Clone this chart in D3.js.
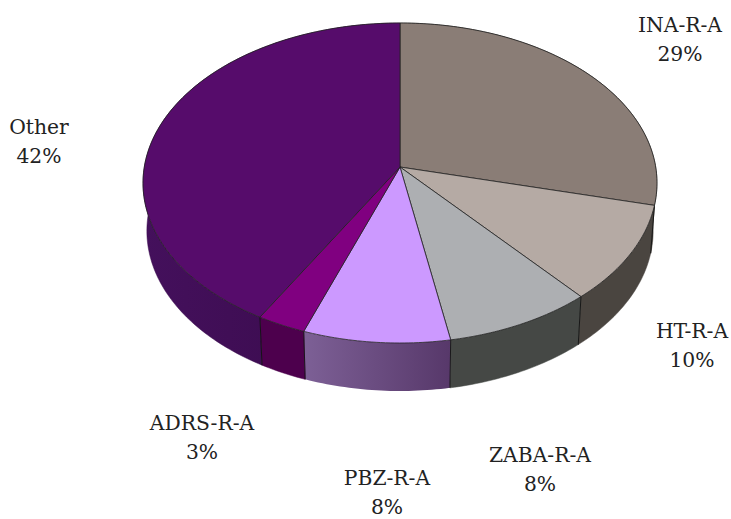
<!DOCTYPE html>
<html>
<head>
<meta charset="utf-8">
<script src="https://cdn.jsdelivr.net/npm/d3@7"></script>
<style>
  html, body { margin: 0; background: #fff; overflow: hidden; }
  text { font-family: "DejaVu Serif", serif; font-size: 20.3px; fill: #222; }
</style>
</head>
<body>
<div id="chart"></div>
<script>
// Data, share of each slice in percent
const categories = ["INA-R-A", "HT-R-A", "ZABA-R-A", "PBZ-R-A", "ADRS-R-A", "Other"];
const shares = [28.8, 9.85, 8.49, 8.4, 2.8, 41.66];
const topColors = ["#8a7d76", "#b5aaa4", "#adafb2", "#cc99ff", "#800080", "#560c6b"];
const sideColors = ["#45403b", "#4a4540", "#454845", "#6b4d85", "#4d004d", "#3a0a4c"];
const labelPos = [[680, 32], [692, 338], [540, 462], [387, 485], [202, 430], [39, 134]];

const width = 731, height = 519;

const svg = d3.select("#chart")
  .append("svg")
  .attr("width", width)
  .attr("height", height);

// Tilted disc: the apex sits above the middle of the ellipse, so use a perspective map
const cx = 400, cy = 167, rx = 255.7, ry = 158.4, tilt = 0.1;
const depth = 48, shrink = 0.985;

function topPoint(a) {
  const u = Math.sin(a), v = -Math.cos(a);
  const den = 1 - tilt * v;
  return [cx + rx * u / den, cy + ry * v / den];
}
function bottomPoint(a) {
  const p = topPoint(a);
  return [cx + shrink * (p[0] - cx), p[1] + depth];
}

const pie = d3.pie().sort(null).value(d => d);
const arcs = pie(shares);
const line = d3.line();

function arcAngles(d) {
  const n = Math.max(2, Math.ceil((d.endAngle - d.startAngle) * 60));
  return d3.range(n + 1).map(i => d.startAngle + (d.endAngle - d.startAngle) * i / n);
}

// The PBZ wall has a light to dark fade in the picture
const defs = svg.append("defs");
const grad = defs.append("linearGradient").attr("id", "pbzSide");
grad.append("stop").attr("offset", "0%").attr("stop-color", "#7d6096");
grad.append("stop").attr("offset", "100%").attr("stop-color", "#57386a");

const otherGrad = defs.append("linearGradient").attr("id", "otherSide");
otherGrad.append("stop").attr("offset", "0%").attr("stop-color", "#44105c");
otherGrad.append("stop").attr("offset", "100%").attr("stop-color", "#380a4a");

// Side walls first, the top faces then hide whatever is at the back
svg.append("g").selectAll("path")
  .data(arcs)
  .enter().append("path")
  .attr("d", d => {
    const as = arcAngles(d);
    return line(as.map(topPoint).concat(as.slice().reverse().map(bottomPoint))) + "Z";
  })
  .attr("fill", (d, i) => i === 3 ? "url(#pbzSide)" : i === 5 ? "url(#otherSide)" : sideColors[i])
  .attr("stroke", (d, i) => i === 3 ? "none" : sideColors[i])
  .attr("stroke-width", 0.5);

// Dividers on the front of the wall
svg.append("g").selectAll("path")
  .data(arcs)
  .enter().append("path")
  .attr("d", d => line([topPoint(d.endAngle), bottomPoint(d.endAngle)]))
  .attr("stroke", "#111")
  .attr("stroke-width", 0.9);

svg.append("g").selectAll("path")
  .data(arcs)
  .enter().append("path")
  .attr("d", d => line([[cx, cy]].concat(arcAngles(d).map(topPoint))) + "Z")
  .attr("fill", (d, i) => topColors[i])
  .attr("stroke", "#222")
  .attr("stroke-width", 0.8)
  .attr("stroke-linejoin", "round");

// Labels
const labels = svg.append("g").selectAll("text")
  .data(categories)
  .enter().append("text")
  .attr("text-anchor", "middle")
  .attr("x", (d, i) => labelPos[i][0])
  .attr("y", (d, i) => labelPos[i][1]);

labels.append("tspan").text(d => d);
labels.append("tspan")
  .attr("x", (d, i) => labelPos[i][0])
  .attr("dy", 29)
  .text((d, i) => d3.format(".0f")(shares[i]) + "%");
</script>
</body>
</html>
